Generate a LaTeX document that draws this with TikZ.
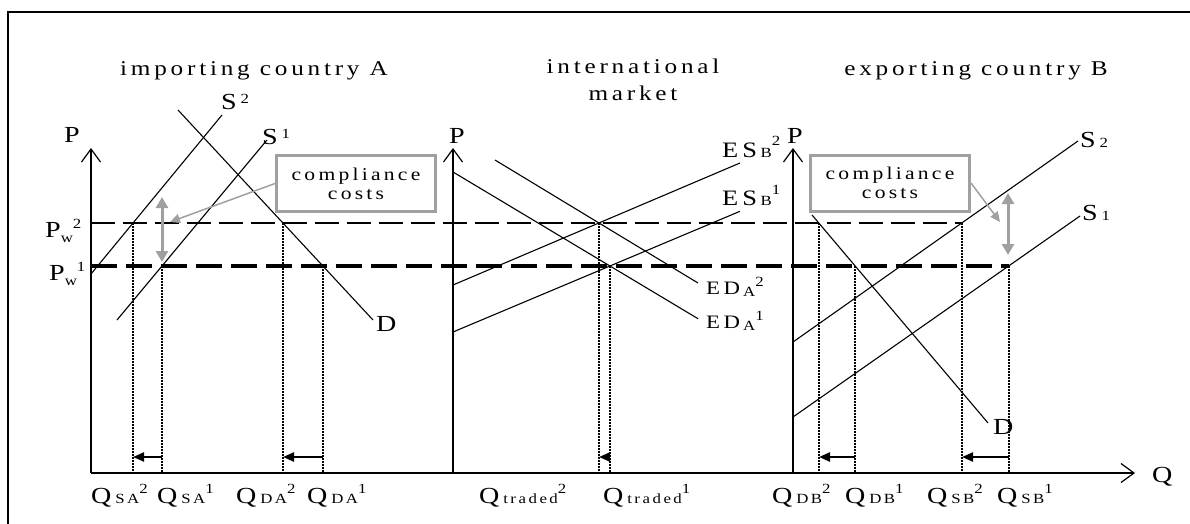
\documentclass[tikz,border=0pt]{standalone}
\usepackage{fontspec}
\setmainfont[FakeStretch=1.22, LetterSpace=6]{Liberation Serif}
\newfontfamily\spacedfont[FakeStretch=1.2, LetterSpace=18]{Liberation Serif}
\usetikzlibrary{arrows.meta}
\newcommand\lblfont{\fontsize{23}{26}\selectfont}
\newcommand\idxfont{\spacedfont\fontsize{14}{16}\selectfont}
% Q label: letter, index, raised number
\newcommand\qlab[3]{#1\,{\idxfont #2}\raisebox{10pt}{\idxfont #3}}
\definecolor{costgray}{HTML}{A0A0A0}
\begin{document}
\begin{tikzpicture}[x=1pt, y=-1pt, font=\lblfont,
  axis/.style={line width=1.5pt, -{Straight Barb[length=13pt,width=19pt,line width=1.2pt]}},
  curve/.style={line width=1.1pt},
  pwtwo/.style={line width=1.7pt, dash pattern=on 24pt off 8pt},
  pwone/.style={line width=3.2pt, dash pattern=on 26pt off 9pt},
  guide/.style={line width=2.4pt, dash pattern=on 1.5pt off 1.5pt},
  shiftarr/.style={line width=2.2pt, -{Triangle[length=11pt,width=9pt]}},
  costbox/.style={draw=costgray, line width=3pt, fill=white, align=center,
    minimum width=159pt, minimum height=56pt, font=\spacedfont\fontsize{18}{21}\selectfont},
  costarr/.style={draw=costgray, line width=1.5pt, -{Triangle[length=10pt,width=9pt]}},
  dblarr/.style={draw=costgray, line width=3pt, {Triangle[length=11pt,width=12pt]}-{Triangle[length=11pt,width=12pt]}},
  ttl/.style={anchor=base, font=\spacedfont\fontsize{21}{25}\selectfont},
  lbl/.style={anchor=base west, inner sep=0pt}]
\useasboundingbox (0,0) rectangle (1190,524);
\draw[line width=1.6pt] (8,524) -- (8,12) -- (1190,12);

% axes
\coordinate (oA) at (91,473);
\coordinate (oM) at (453,473);
\coordinate (oB) at (793,473);
\coordinate (qend) at (1135,473);
\draw[axis] (oA) -- (91,148);
\draw[axis] (oM) -- (453,148);
\draw[axis] (oB) -- (793,148);
\draw[axis] (oA) -- (qend);
\node[lbl] (pA) at (64,142) {P};
\node[lbl] (pM) at (449,143) {P};
\node[lbl] (pB) at (787,143) {P};
\node[lbl] (q) at (1152,482) {Q};

% world prices
\draw[pwtwo] (91,223) -- (962,223);
\draw[pwone] (91,266) -- (1009,266);
\node[lbl] (pw2) at (45,237) {P\raisebox{-5pt}{\idxfont w}\raisebox{9pt}{\idxfont 2}};
\node[lbl] (pw1) at (49,280) {P\raisebox{-5pt}{\idxfont w}\raisebox{9pt}{\idxfont 1}};

% titles
\node[ttl] (ttlA) at (254,76) {importing country A};
\node[ttl] (ttlM) at (633,74) {international};
\node[ttl] (ttlM2) at (633,101) {market};
\node[ttl] (ttlB) at (976,76) {exporting country B};

% importing country A
\coordinate (sa2a) at (91,274);  \coordinate (sa2b) at (222,115);
\coordinate (sa1a) at (117,320); \coordinate (sa1b) at (267,140);
\coordinate (da-a) at (178,110); \coordinate (da-b) at (373,320);
\draw[curve] (sa2a) -- (sa2b);
\draw[curve] (sa1a) -- (sa1b);
\draw[curve] (da-a) -- (da-b);
\node[lbl] (s2A) at (221,110) {S\,\raisebox{6pt}{\idxfont 2}};
\node[lbl] (s1A) at (262,144) {S\,\raisebox{6pt}{\idxfont 1}};
\node[lbl] (dA) at (376,331) {D};
\coordinate (qsa2) at (133,223); \coordinate (qsa1) at (162,266);
\coordinate (qda2) at (283,223); \coordinate (qda1) at (323,266);
\foreach \c in {qsa2,qsa1,qda2,qda1}
  \draw[guide] (\c) -- (\c |- oA);
\draw[shiftarr] (qsa1 |- 0,457) -- (qsa2 |- 0,457);
\draw[shiftarr] (qda1 |- 0,457) -- (qda2 |- 0,457);
\node[lbl] at (91,503) {\qlab{Q}{SA}{2}};
\node[lbl] at (157,503) {\qlab{Q}{SA}{1}};
\node[lbl] at (236,503) {\qlab{Q}{DA}{2}};
\node[lbl] at (307,503) {\qlab{Q}{DA}{1}};
\node[costbox] (boxA) at (356,183.5) {compliance\\[-2pt]costs};
\coordinate (cA) at (170,222);
\draw[costarr] (boxA.west) -- (cA);
\draw[dblarr] (162,197) -- (162,262);

% international market
\coordinate (eda1a) at (453,172); \coordinate (eda1b) at (698,318.7);
\coordinate (eda2a) at (495,160); \coordinate (eda2b) at (698,283);
\coordinate (esb2a) at (453,285); \coordinate (esb2b) at (740,163);
\coordinate (esb1a) at (453,332); \coordinate (esb1b) at (740,211.3);
\draw[curve] (eda1a) -- (eda1b);
\draw[curve] (eda2a) -- (eda2b);
\draw[curve] (esb2a) -- (esb2b);
\draw[curve] (esb1a) -- (esb1b);
\node[lbl, font=\spacedfont\fontsize{22}{25}\selectfont] (esb2) at (722,157) {ES\,{\idxfont B}\raisebox{11pt}{\idxfont 2}};
\node[lbl, font=\spacedfont\fontsize{22}{25}\selectfont] (esb1) at (722,205) {ES\,{\idxfont B}\raisebox{11pt}{\idxfont 1}};
\node[lbl, font=\spacedfont\fontsize{19}{22}\selectfont] (eda2) at (706,294) {ED\,\raisebox{-2pt}{\idxfont A}\raisebox{8pt}{\idxfont 2}};
\node[lbl, font=\spacedfont\fontsize{19}{22}\selectfont] (eda1) at (706,328) {ED\,\raisebox{-2pt}{\idxfont A}\raisebox{8pt}{\idxfont 1}};
\coordinate (qt2) at (599,223); \coordinate (qt1) at (610,266);
\foreach \c in {qt2,qt1}
  \draw[guide] (\c) -- (\c |- oM);
\draw[shiftarr] (qt1 |- 0,457) -- (qt2 |- 0,457);
\node[lbl] at (479,503) {\qlab{Q}{traded}{2}};
\node[lbl] at (603,503) {\qlab{Q}{traded}{1}};

% exporting country B
\coordinate (sb2a) at (793,342); \coordinate (sb2b) at (1078,141);
\coordinate (sb1a) at (793,417); \coordinate (sb1b) at (1080,216);
\coordinate (db-a) at (812,215); \coordinate (db-b) at (988,423);
\draw[curve] (sb2a) -- (sb2b);
\draw[curve] (sb1a) -- (sb1b);
\draw[curve] (db-a) -- (db-b);
\node[lbl] (s2B) at (1080,147) {S\,{\idxfont 2}};
\node[lbl] (s1B) at (1082,220) {S\,{\idxfont 1}};
\node[lbl] (dB) at (993,434) {D};
\coordinate (qdb2) at (819,223); \coordinate (qdb1) at (855,266);
\coordinate (qsb2) at (962,223); \coordinate (qsb1) at (1009,266);
\foreach \c in {qdb2,qdb1,qsb2,qsb1}
  \draw[guide] (\c) -- (\c |- oB);
\draw[shiftarr] (qdb1 |- 0,457) -- (qdb2 |- 0,457);
\draw[shiftarr] (qsb1 |- 0,457) -- (qsb2 |- 0,457);
\node[lbl] at (772,503) {\qlab{Q}{DB}{2}};
\node[lbl] at (845,503) {\qlab{Q}{DB}{1}};
\node[lbl] at (927,503) {\qlab{Q}{SB}{2}};
\node[lbl] at (997,503) {\qlab{Q}{SB}{1}};
\node[costbox] (boxB) at (890,183) {compliance\\[-2pt]costs};
\coordinate (cB) at (1000,222);
\draw[costarr] (boxB.east) -- (cB);
\draw[dblarr] (1008,193) -- (1008,255);
\end{tikzpicture}
\end{document}
